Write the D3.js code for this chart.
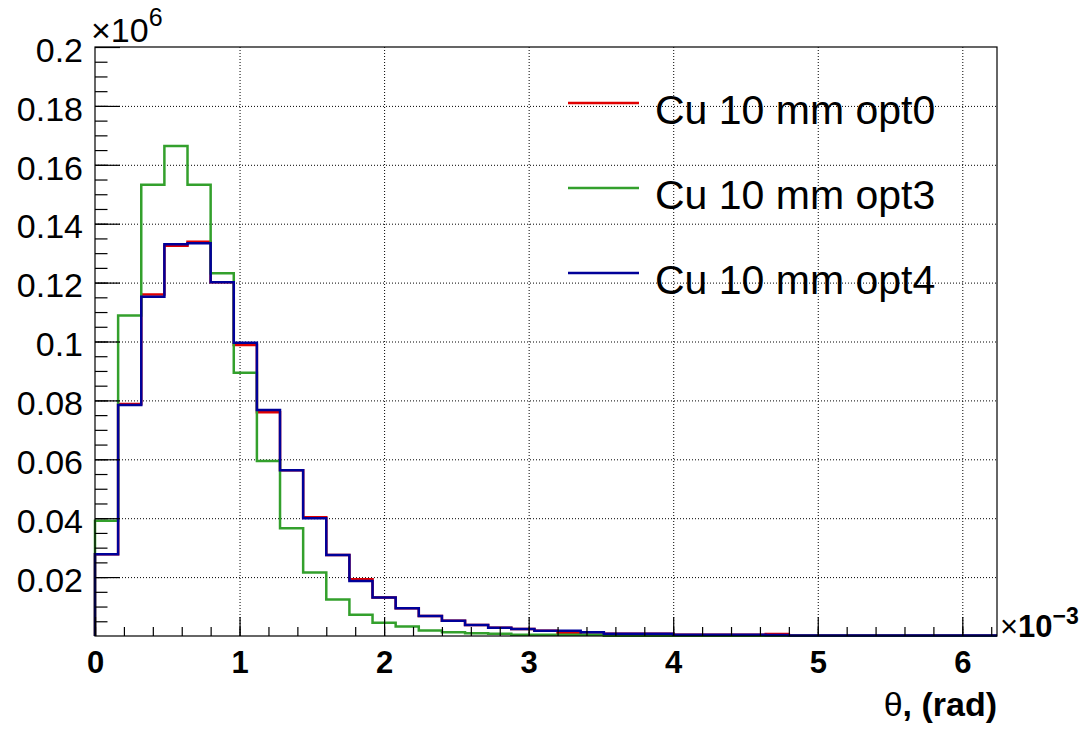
<html><head>
  <script src="https://d3js.org/d3.v7.min.js"></script>
  <style>
  body { margin: 0; background: #fff; }
  text { font-family: "Liberation Sans", Arial, Helvetica, sans-serif; fill: #000; }
  .gridlines line { stroke: #000; stroke-dasharray: 1,2; stroke-width: 1; }
  .gridlines .domain { stroke: none; }
  .axis .domain { stroke: #000; stroke-width: 1.2; }
  .axis line { stroke: #000; stroke-width: 1.2; }
  </style>
</head>
<body>
<svg id="chart" width="1081" height="732"></svg>
<script>
// theta bins (units of 1e-3 rad), counts in units of 1e6
const binWidth = 0.16;
const xMax = 6.24;
const yMax = 0.2;

const opt0 = [0.0278, 0.0788, 0.1160, 0.1325, 0.1339, 0.1201, 0.0988, 0.0760, 0.0563, 0.0403,
              0.0275, 0.0193, 0.0131, 0.0094, 0.0068, 0.0052, 0.0037, 0.0028, 0.0024, 0.0018,
              0.0011, 0.0013, 0.0008, 0.0008, 0.0008, 0.0004, 0.0004, 0.0004, 0.0004, 0.0007,
              0.0002, 0.0002, 0.0002, 0.0002, 0.0002, 0.0002, 0.0002, 0.0002, 0.0002];
const opt3 = [0.0391, 0.1088, 0.1532, 0.1664, 0.1532, 0.1232, 0.0894, 0.0594, 0.0366, 0.0216,
              0.0124, 0.0072, 0.0045, 0.0032, 0.0019, 0.0013, 0.0009, 0.0008, 0.0004, 0.0004,
              0.0004, 0.0004, 0.0001, 0.0001, 0.0001, 0.0001, 0.0001, 0.0001, 0.0001, 0.0001,
              0.0001, 0.0001, 0.0001, 0.0001, 0.00005, 0.00005, 0.00005, 0.00005, 0.00005];
const opt4 = [0.0278, 0.0784, 0.1152, 0.1330, 0.1334, 0.1201, 0.0996, 0.0767, 0.0563, 0.0400,
              0.0275, 0.0187, 0.0131, 0.0094, 0.0068, 0.0052, 0.0037, 0.0028, 0.0024, 0.0018,
              0.0018, 0.0013, 0.0008, 0.0008, 0.0008, 0.0004, 0.0004, 0.0004, 0.0004, 0.0003,
              0.0002, 0.0002, 0.0002, 0.0002, 0.0002, 0.0002, 0.0002, 0.0002, 0.0002];

const seriesNames = ["Cu 10 mm opt0", "Cu 10 mm opt3", "Cu 10 mm opt4"];
const seriesColors = ["#e00000", "#33a02c", "#000099"];
const seriesData = [opt0, opt3, opt4];

const xTicks = [0, 1, 2, 3, 4, 5, 6];
const yTicks = [0.02, 0.04, 0.06, 0.08, 0.1, 0.12, 0.14, 0.16, 0.18, 0.2];
const xMinor = d3.range(0, 6.21, 0.2);
const yMinor = d3.range(0.005, 0.2, 0.005);

let svg = d3.select("svg#chart");
const margins = {"top":47, "right":84, "bottom":96, "left":95};
const width = +svg.attr("width");
const height = +svg.attr("height");

const x = d3.scaleLinear().domain([0, xMax]).range([margins.left, width - margins.right]);
const y = d3.scaleLinear().domain([0, yMax]).range([height - margins.bottom, margins.top]);

svg.append("rect").attr("width", width).attr("height", height).attr("fill", "#fff");

// grid
svg.append("g")
   .attr("class","gridlines")
   .attr("transform","translate(0,"+ y(0) +")")
   .call(d3.axisBottom(x).tickValues(xTicks.slice(1)).tickFormat("").tickSize(-(y(0)-y(yMax))));
svg.append("g")
   .attr("class","gridlines")
   .attr("transform","translate("+ x(0) +",0)")
   .call(d3.axisLeft(y).tickValues(yTicks.slice(0,-1)).tickFormat("").tickSize(-(x(xMax)-x(0))));

// histograms
let line = d3.line().x(d => x(d[0])).y(d => y(d[1]));
seriesData.forEach((vals, k) => {
  let pts = [[0, 0]];
  vals.forEach((v, i) => {
    pts.push([i*binWidth, v]);
    pts.push([(i+1)*binWidth, v]);
  });
  svg.append("path")
     .attr("d", line(pts))
     .attr("fill","none")
     .attr("stroke", seriesColors[k])
     .attr("stroke-width", 2.5)
     .attr("stroke-linejoin","miter");
});

// frame
svg.append("rect")
   .attr("x", x(0)).attr("y", y(yMax))
   .attr("width", x(xMax)-x(0)).attr("height", y(0)-y(yMax))
   .attr("fill","none").attr("stroke","#000").attr("stroke-width",1.2);

// x axis
let xAxis = d3.axisBottom(x).tickValues(xTicks).tickSize(-19).tickPadding(15).tickFormat(d3.format("d"));
let gx = svg.append("g").attr("class","x axis").attr("transform","translate(0,"+ y(0) +")").call(xAxis);
gx.selectAll("text").attr("font-size", 31).attr("font-weight","bold");
gx.select(".domain").remove();
svg.append("g").attr("class","axis").attr("transform","translate(0,"+ y(0) +")")
   .call(d3.axisBottom(x).tickValues(xMinor).tickSize(-9).tickFormat(""))
   .select(".domain").remove();

// y axis
let yAxis = d3.axisLeft(y).tickValues(yTicks).tickSize(-25).tickPadding(12).tickFormat(d3.format("~g"));
let gy = svg.append("g").attr("class","y axis").attr("transform","translate("+ x(0) +",0)").call(yAxis);
gy.selectAll("text").attr("font-size", 34).attr("dy","0.42em");
gy.select(".domain").remove();
svg.append("g").attr("class","axis").attr("transform","translate("+ x(0) +",0)")
   .call(d3.axisLeft(y).tickValues(yMinor).tickSize(-12.5).tickFormat(""))
   .select(".domain").remove();

// exponents
let e6 = svg.append("text").attr("x", 91).attr("y", 42).attr("font-size", 34);
e6.append("tspan").text("×10");
e6.append("tspan").attr("dy", -16).attr("font-size", 25).text("6");

let e3 = svg.append("text").attr("x", 1000).attr("y", 637).attr("font-size", 31);
e3.append("tspan").text("×");
e3.append("tspan").attr("font-weight","bold").text("10");
e3.append("tspan").attr("dy", -13).attr("font-size", 23).attr("font-weight","bold").text("−3");

// axis title
let title = svg.append("text").attr("x", x(xMax)).attr("y", 716)
   .attr("text-anchor","end").attr("font-size", 34);
title.append("tspan").text("θ");
title.append("tspan").attr("font-weight","bold").text(", (rad)");

// legend
const legendY = [103, 188, 273];
seriesNames.forEach((name, k) => {
  svg.append("line")
     .attr("x1", 568).attr("x2", 639)
     .attr("y1", legendY[k]).attr("y2", legendY[k])
     .attr("stroke", seriesColors[k]).attr("stroke-width", 2.5);
  svg.append("text")
     .attr("x", 655).attr("y", legendY[k] + 21)
     .attr("font-size", 41)
     .text(name);
});
</script>
</body>
</html>
